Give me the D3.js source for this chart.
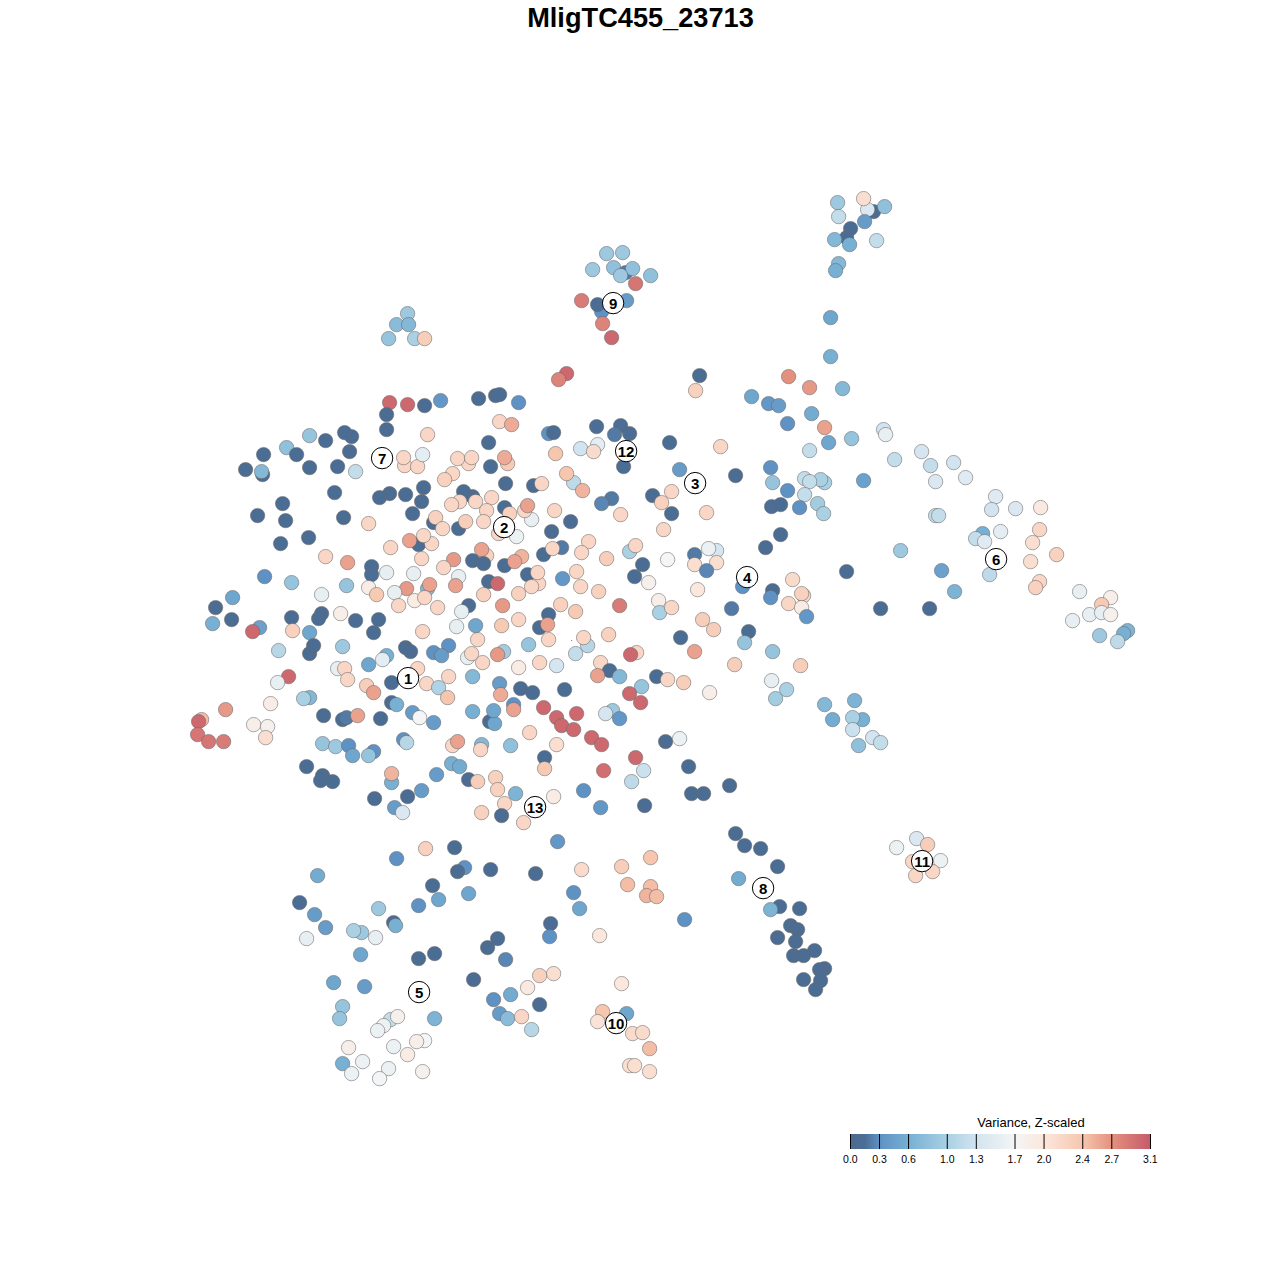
<!DOCTYPE html>
<html><head><meta charset="utf-8">
<script src="https://cdn.jsdelivr.net/npm/d3@7/dist/d3.min.js"></script>
<style>html,body{margin:0;padding:0;background:#fff}svg{display:block}text{font-family:"Liberation Sans",Arial,sans-serif}</style>
</head><body><svg id="chart" width="1280" height="1280"></svg>
<script>
const chartTitle="MligTC455_23713";
const legendTitle="Variance, Z-scaled";
const legendTicks=[0.0,0.3,0.6,1.0,1.3,1.7,2.0,2.4,2.7,3.1];
const paletteStops=[0,0.15,0.3,0.6,1.0,1.3,1.7,2.0,2.4,2.7,3.1];
const paletteColors=["#4a6a90","#4c6e96","#5f92c4","#77b0d3","#a9d0e3","#d2e4ef","#f4f5f6","#fbe7dc","#f6c6ae","#e4907f","#c65a69"];
// [tSNE-1, tSNE-2, variance]
const cellsTopRight=[[873,211,.1],[837,202,.9],[838,216,1.2],[867,209,1.4],[884,206,.8],[863,198,2.1],[864,221,.4],[850,228,.1],[846,237,.1],[834,239,.7],[849,244,.6],[876,240,1.2],[838,263,.7],[835,270,.6],[830,317,.5],[830,356,.6],[842,388,.7]];
const cellsNine=[[606,253,.9],[622,252,.9],[592,269,.9],[613,267,.8],[625,272,.2],[632,268,.8],[620,275,.9],[650,275,.8],[635,283,2.9],[581,300,2.85],[601,311,.3],[597,304,.1],[626,300,.4],[602,323,2.8],[611,337,3]];
const cellsIslet=[[407,313,.9],[396,324,.75],[408,324,.7],[388,338,.85],[414,338,1.0],[424,338,2.3]];
const cellsUpperRight=[[566,373,3],[558,379,2.8],[699,375,.1],[695,390,2.25],[788,376,2.7],[809,387,2.65],[751,396,.5],[768,403,.35],[778,405,.4],[811,413,.55],[787,423,.3],[824,427,2.6],[828,442,.5],[851,438,.85],[809,450,1.2],[883,429,1.3],[885,434,1.55],[894,459,1.2],[921,451,1.35],[930,465,1.2],[953,462,1.3],[935,481,1.4],[965,477,1.45],[863,480,.45],[824,482,1.0],[804,478,1.2],[820,479,1.0],[809,481,1.2],[772,482,.85],[770,467,.3],[787,490,.3],[804,494,1.2],[817,503,.95],[823,513,1.0],[799,507,.3],[771,506,.15],[780,504,.1],[780,534,.1],[765,547,.1],[735,475,.1],[679,469,.4],[669,442,.1],[720,446,2.2]];
const cellsSix=[[995,496,1.45],[1015,508,1.4],[1040,507,1.95],[991,509,1.3],[935,515,1.2],[938,515,1.2],[982,533,.6],[975,538,1.2],[984,541,1.45],[1000,531,1.5],[1039,529,2.2],[1032,542,2.1],[1056,554,2.25],[1030,561,2.1],[989,574,1.15],[900,550,.9],[941,570,.45],[846,571,.1],[954,591,.65],[880,608,.1],[929,608,.1],[1039,581,2.2],[1035,587,2.25],[1079,591,1.55],[1110,597,1.85],[1101,604,2.35],[1089,614,1.55],[1101,612,1.55],[1110,614,1.8],[1072,620,1.55],[1127,630,.65],[1123,633,.6],[1099,635,.9],[1117,641,1.15]];
const cellsFour=[[742,586,.3],[772,590,.1],[770,597,.3],[731,608,.2],[792,579,2.15],[803,595,2.2],[801,593,2.25],[788,603,2.2],[801,607,1.9],[806,616,.35],[694,554,.2],[716,550,1.35],[708,548,1.6],[694,564,2.1],[716,562,2.1],[706,570,.25],[697,589,2],[702,619,2.3],[713,629,2.3],[748,631,.1],[744,642,.85],[680,637,.1],[694,651,2.6],[772,651,.85],[734,664,2.3],[800,665,2.3],[771,680,1.55],[786,689,1.0],[775,698,.95],[709,692,1.85],[683,682,2.3],[656,676,.1],[667,679,2.2],[824,704,.7],[854,700,.65],[832,719,.55],[862,719,.6],[852,717,1.0],[852,729,1.25],[872,737,1.3],[858,745,.8],[880,742,1.2]];
const cellsCenterTop=[[706,512,2.2],[671,513,.1],[663,529,2.2],[652,495,.1],[671,491,2.2],[661,502,2.25],[629,551,1.0],[635,545,2.2],[642,564,.1],[634,576,.1],[648,582,1.8],[667,559,1.7],[658,600,1.85],[659,612,1.0],[671,607,2.2],[619,605,2.85],[620,425,.15],[596,426,.15],[629,433,.1],[614,434,.2],[597,444,1.5],[580,448,1.3],[593,451,2.15],[623,466,.1],[555,453,2.4],[573,482,1.15],[566,473,2.4],[582,490,2.5],[611,498,.2],[601,503,.25],[620,514,2.2],[499,421,2.2],[511,424,2.55],[478,398,.1],[495,395,.1],[499,394,.1],[518,402,.3],[488,442,.1],[548,433,.3],[553,432,.1],[468,463,2.2],[457,458,2.2],[471,457,2.2],[490,466,.1],[507,463,2.35],[504,457,2.55],[452,473,2.2],[444,479,2.25],[505,483,.1],[533,485,.1],[541,483,2.2],[472,496,.1],[463,491,.1],[491,497,2.2],[475,501,2.2],[459,501,2.2],[451,504,2.2],[504,507,.1],[486,510,2.2],[509,513,2.25],[531,519,1.55],[524,510,2.2],[527,505,2.6],[554,510,2.2],[570,521,.1],[551,531,.1],[433,522,.1],[435,517,2.25],[442,528,2.2],[458,528,.1],[465,521,2.3],[483,521,2.2],[516,536,1.6],[498,533,2.2],[418,544,.1],[409,540,2.6],[431,543,2.2],[423,535,2.2],[421,558,2.2],[486,555,2.25],[481,549,2.6],[472,560,.1],[483,563,.1],[453,559,2.65],[443,567,2.2],[504,565,.1],[521,556,2.5],[514,561,2.6],[543,554,.1],[561,547,.2],[552,548,2.2],[588,541,2.2],[581,552,2.2],[606,558,2.3]];
const cellsCenter=[[576,571,2.2],[562,578,.35],[527,574,.1],[538,583,2.2],[531,586,2.2],[537,572,2.2],[518,593,2.25],[580,586,2.2],[598,591,2.25],[488,581,.1],[497,583,3.0],[483,594,2.25],[502,605,2.65],[560,604,2.25],[575,611,2.35],[518,619,2.2],[501,625,2.35],[548,614,.1],[539,627,.1],[547,624,2.6],[548,639,2.2],[587,645,1.1],[583,637,2.2],[575,653,1.2],[608,634,2.25],[528,644,.85],[539,662,2.2],[556,665,1.35],[518,667,1.9],[600,662,2.2],[636,652,2.2],[630,654,3.0],[609,670,.1],[597,675,2.6],[619,676,.7],[641,686,.85],[629,693,3.0],[640,702,3.0],[564,689,.1],[520,688,.1],[532,692,.1],[499,683,.4],[500,694,2.55],[472,676,.7],[482,662,2.2],[503,651,.95],[497,654,2.65],[477,639,2.2],[467,657,1.55],[471,653,2.2],[475,625,.5],[456,626,1.55],[468,605,.1],[461,611,1.55],[437,607,2.2],[422,631,2.2],[448,645,.3],[433,652,.3],[441,655,.4],[405,647,.1],[410,651,.1],[417,668,2.2],[426,683,2.2],[438,687,1.05],[448,676,2.2],[447,697,2.4],[472,711,.6],[489,721,.1],[494,723,.5],[493,710,.5],[513,704,.3],[513,709,2.6],[543,707,3.0],[556,717,3.0],[561,725,3.0],[576,713,3.0],[573,729,3.0],[591,737,3.0],[601,744,3.0],[529,732,2.2],[612,710,.9],[605,713,1.35],[619,718,.35]];
const cellsWest=[[389,402,3.0],[407,404,3.0],[424,405,.1],[440,400,.35],[386,414,.1],[386,429,.1],[427,434,2.2],[309,435,.85],[325,440,.1],[351,436,.1],[344,432,.1],[286,447,.8],[263,454,.1],[296,454,.1],[349,451,.1],[245,469,.1],[262,474,.1],[261,471,.7],[309,467,.1],[337,466,.1],[355,471,1.2],[404,465,2.2],[403,457,2.2],[417,466,2.2],[422,454,1.5],[334,492,.1],[423,487,.1],[389,493,.1],[379,497,.1],[405,494,.1],[421,501,.1],[412,513,.1],[282,503,.1],[257,515,.1],[285,520,.1],[343,517,.1],[368,523,2.2],[308,537,.1],[280,543,.1],[390,547,2.2],[325,556,2.2],[347,562,2.6],[371,566,.1],[371,574,.15],[386,572,1.55],[413,573,1.55],[458,576,1.55],[427,588,.7],[429,584,2.6],[455,585,2.6],[406,588,2.65],[394,592,1.55],[368,587,1.9],[376,594,2.35],[346,585,.85],[291,582,.85],[264,576,.3],[321,594,1.55],[232,597,.5],[215,607,.1],[231,619,.1],[212,623,.6],[259,627,.45],[252,631,3.0],[291,617,.1],[292,630,2.25],[321,613,.1],[318,618,.1],[309,632,.5],[340,613,1.85],[355,620,.1],[378,619,.1],[373,632,.1],[398,605,2.2],[414,600,1.9],[424,597,2.2],[278,650,1.1],[309,653,.1],[313,645,.1],[342,646,.9],[386,655,.6],[382,659,1.5],[368,664,.5],[337,668,1.55],[344,668,2.2],[288,676,3.0],[277,682,1.55],[347,679,2.2],[391,682,.1]];
const cellsSouthWest=[[201,719,2.45],[198,721,3],[225,709,2.65],[197,734,2.9],[208,741,2.9],[223,741,2.85],[253,724,1.85],[267,726,1.8],[265,737,2.1],[270,703,1.9],[309,697,.7],[303,698,1.0],[323,715,.1],[342,719,.1],[346,717,.2],[357,715,2.6],[366,685,2.3],[373,692,2.6],[380,718,.1],[391,702,.1],[396,704,.6],[412,712,.4],[419,717,1.7],[433,722,.4],[322,743,.85],[335,746,.9],[348,745,.3],[352,755,.5],[373,751,.3],[368,755,.85],[403,739,.3],[406,742,1.1],[306,766,.1],[322,775,.1],[320,780,.1],[332,781,.1],[391,782,.6],[391,773,2.5],[374,798,.1],[407,796,.1],[421,790,.4],[394,807,.4],[402,812,1.4],[436,774,.4],[451,763,.6],[459,766,.55],[468,779,.1],[477,781,2.3],[495,777,2.25],[452,745,2.2],[457,741,2.6],[481,744,.7],[480,749,2.2],[510,745,.8],[544,757,.1],[544,768,2.35],[556,744,2.1],[635,757,3],[603,770,2.95],[643,770,1.25],[631,781,1.15],[583,790,.3],[600,807,.35],[644,805,.1],[688,766,.1],[729,785,.1],[691,793,.1],[703,793,.1],[665,741,.1],[679,738,1.6],[497,789,2.25],[515,793,.65],[553,796,1.9],[504,803,2.2],[481,812,2.25],[501,815,.1],[523,822,2.2]];
const cellsEight=[[735,833,.1],[744,845,.1],[760,848,.1],[777,866,.1],[738,878,.55],[779,906,.1],[770,909,.65],[799,908,.1],[790,925,.1],[797,929,.1],[777,937,.1],[795,941,.1],[793,955,.1],[803,955,.1],[814,950,.1],[824,968,.1],[819,969,.1],[820,980,.1],[803,979,.1],[815,989,.1]];
const cellsEleven=[[916,838,1.4],[927,844,2.3],[896,847,1.6],[912,861,2.2],[940,860,1.6],[932,871,2.2],[915,875,2.2]];
const cellsBottom=[[557,841,.35],[425,848,2.25],[454,847,.1],[396,858,.3],[464,867,.3],[457,871,.1],[490,869,.1],[535,873,.1],[581,869,2.15],[621,866,2.3],[650,857,2.4],[317,875,.55],[432,885,.1],[573,892,.3],[627,884,2.45],[650,886,2.45],[646,895,2.5],[656,896,2.45],[438,899,.5],[418,905,.3],[468,893,.5],[299,902,.1],[314,914,.4],[579,908,.5],[378,908,.9],[393,922,.1],[395,925,.6],[325,927,.4],[361,932,.9],[353,930,1.0],[375,937,1.55],[306,938,1.55],[550,923,.1],[549,936,.3],[684,919,.3],[599,935,2],[497,938,.1],[487,947,.1],[360,954,.5],[434,953,.1],[418,958,.1],[505,959,.25],[553,973,2.1],[539,975,2.25],[527,987,1.95],[473,979,.1],[333,982,.5],[364,986,.4],[621,983,2],[510,994,.55],[493,999,.3],[539,1004,.1],[342,1006,.85],[339,1018,.85],[434,1018,.65],[499,1013,.4],[507,1018,.75],[521,1016,2.2],[531,1029,1.1],[626,1013,.5],[602,1011,2.4],[597,1021,2.05],[390,1019,1.2],[397,1016,1.8],[383,1025,1.6],[377,1030,1.6],[632,1033,2.15],[642,1032,2.15],[649,1048,2.45],[393,1046,1.6],[424,1040,1.7],[416,1041,1.85],[348,1047,1.85],[407,1054,1.9],[362,1061,1.6],[342,1063,.6],[351,1073,1.6],[388,1068,1.6],[379,1078,1.7],[422,1071,1.8],[629,1065,2.1],[634,1065,2.1],[649,1071,2.1]];
const clusterIds=["1","2","3","4","5","6","7","8","9","10","11","12","13"];
const clusterX=[407.5,503.5,694.5,746.5,418.5,995.5,381.5,762.5,612.5,615.5,921.5,625.5,534.5];
const clusterY=[677.5,526.5,482.5,576.5,991.5,558.5,457.5,887.5,302.5,1022.5,860.5,450.5,806.5];
const strayPoint=[571,640];

const svg=d3.select("#chart");
const x=d3.scaleLinear().domain([0,1280]).range([0.6,1280.6]);
const y=d3.scaleLinear().domain([0,1280]).range([0.6,1280.6]);
const color=d3.scaleLinear().domain(paletteStops).range(paletteColors).interpolate(d3.interpolateRgb);

const cells=[].concat(cellsTopRight,cellsNine,cellsIslet,cellsUpperRight,cellsSix,cellsFour,cellsCenterTop,cellsCenter,cellsWest,cellsSouthWest,cellsEight,cellsEleven,cellsBottom);
svg.append("g").selectAll("circle").data(cells).join("circle")
  .attr("cx",d=>x(d[0])).attr("cy",d=>y(d[1])).attr("r",7.2)
  .attr("fill",d=>color(d[2]))
  .attr("stroke","#666").attr("stroke-opacity",0.55).attr("stroke-width",1);
svg.append("circle").attr("cx",x(strayPoint[0])).attr("cy",y(strayPoint[1])).attr("r",0.5).attr("fill","#456");

const labels=svg.append("g").selectAll("g").data(clusterIds).join("g")
  .attr("transform",(d,i)=>`translate(${x(clusterX[i])},${y(clusterY[i])})`);
labels.append("circle").attr("r",10.7).attr("fill","#fff").attr("fill-opacity",0.95).attr("stroke","#000").attr("stroke-width",1);
labels.append("text").attr("text-anchor","middle").attr("dy","0.36em").attr("font-weight","bold").attr("font-size",15).text(d=>d);

svg.append("text").attr("x",640.5).attr("y",27).attr("text-anchor","middle").attr("font-weight","bold").attr("font-size",27.2).attr("fill","#000").text(chartTitle);

// legend
const lx=d3.scaleLinear().domain([0,3.1]).range([850.5,1150.5]);
const legend=svg.append("g");
const defs=svg.append("defs");
const grad=defs.append("linearGradient").attr("id","varGrad").attr("x1","0").attr("x2","1").attr("y1","0").attr("y2","0");
grad.selectAll("stop").data(paletteStops).join("stop").attr("offset",d=>d/3.1).attr("stop-color",d=>color(d));
legend.append("rect").attr("x",lx(0)).attr("y",1134).attr("width",lx(3.1)-lx(0)).attr("height",15).attr("fill","url(#varGrad)");
legend.selectAll("line").data(legendTicks).join("line").attr("x1",d=>lx(d)).attr("x2",d=>lx(d)).attr("y1",1134).attr("y2",1149).attr("stroke","#000").attr("stroke-width",1);
const axis=d3.axisBottom(lx).tickValues(legendTicks).tickFormat(d3.format(".1f")).tickSize(0).tickPadding(0);
const ag=legend.append("g").attr("transform","translate(-0.6,1156)").call(axis);
ag.select(".domain").remove();
ag.selectAll("text").attr("font-size",10.5).attr("fill","#000").style("font-family",'"Liberation Sans",Arial,sans-serif');
legend.append("text").attr("x",1031).attr("y",1127).attr("text-anchor","middle").attr("font-size",13).attr("fill","#000").text(legendTitle);
</script></body></html>
